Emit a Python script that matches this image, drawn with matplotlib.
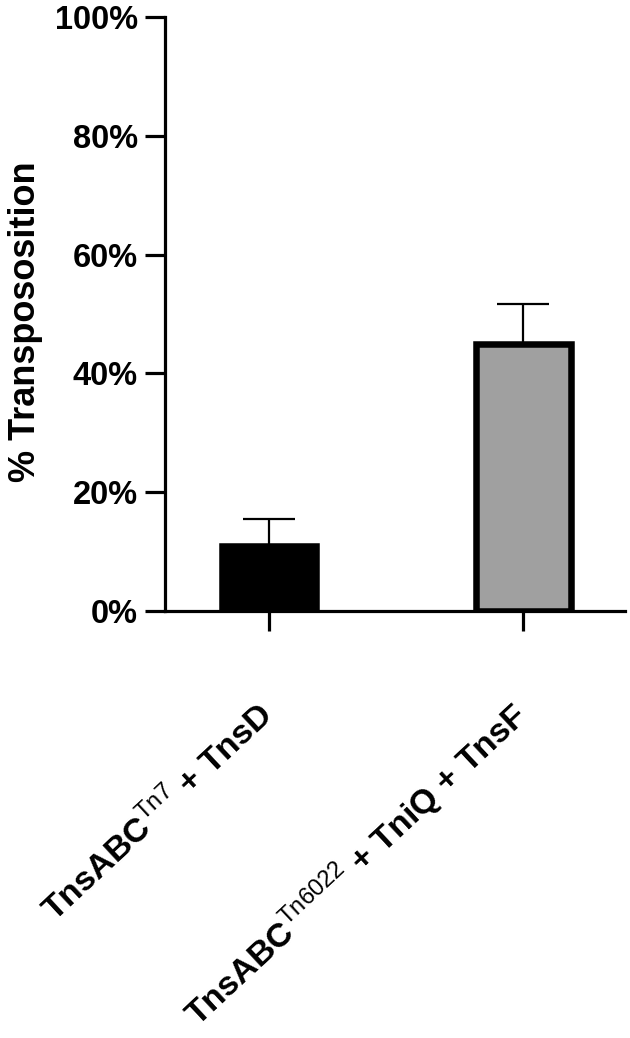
import matplotlib
matplotlib.use("Agg")
import matplotlib.pyplot as plt
import matplotlib.transforms as mtrans
from matplotlib.ticker import PercentFormatter

plt.rcParams["font.family"] = ["Liberation Sans", "DejaVu Sans"]
plt.rcParams["mathtext.fontset"] = "custom"
plt.rcParams["mathtext.rm"] = "Liberation Sans"
plt.rcParams["mathtext.bf"] = "Liberation Sans:bold"

# data (percent)
groups = [r"TnsABC$^{\mathrm{Tn7}}$ + TnsD",
          r"TnsABC$^{\mathrm{Tn6022}}$ + TniQ + TnsF"]
values = [11.0, 45.0]
err_up = [4.5, 6.7]
colors = ["#000000", "#a0a0a0"]
yticks = [0, 20, 40, 60, 80, 100]

fig = plt.figure(figsize=(6.3, 10.38), dpi=100)
ax = fig.add_axes([0.262, 0.4114, 0.73, 0.5722])

x = list(range(len(values)))
ax.errorbar(x, values, yerr=[[0] * len(err_up), err_up], fmt="none",
            ecolor="black", elinewidth=1.6, capsize=19, capthick=1.6, zorder=1)
ax.bar(x, values, width=0.372, color=colors, edgecolor="black",
       linewidth=4.7, zorder=2)

ax.set_xlim(-0.409, 1.40)
ax.set_ylim(0, 100)
ax.set_yticks(yticks)
ax.yaxis.set_major_formatter(PercentFormatter(decimals=0))

for s in ["top", "right"]:
    ax.spines[s].set_visible(False)
for s in ["left", "bottom"]:
    ax.spines[s].set_linewidth(2.3)
    ax.spines[s].set_capstyle("projecting")

ax.tick_params(axis="y", length=14.5, width=2.3, pad=5, labelsize=23.5)
ax.tick_params(axis="x", length=14.5, width=2.3, pad=57, labelsize=24.5)
for lab in ax.get_yticklabels():
    lab.set_fontweight("bold")

ax.set_xticks(x)
ax.set_xticklabels(groups, rotation=43, ha="right", va="center",
                   rotation_mode="anchor", fontweight="bold")
shift = mtrans.ScaledTranslation(-0.01, 0, fig.dpi_scale_trans)
for lab in ax.get_xticklabels():
    lab.set_transform(lab.get_transform() + shift)

ax.set_ylabel("% Transpososition", fontsize=26, fontweight="bold")
ax.yaxis.set_label_coords(-0.265, 0.487)

fig.savefig("out.png", dpi=100)
